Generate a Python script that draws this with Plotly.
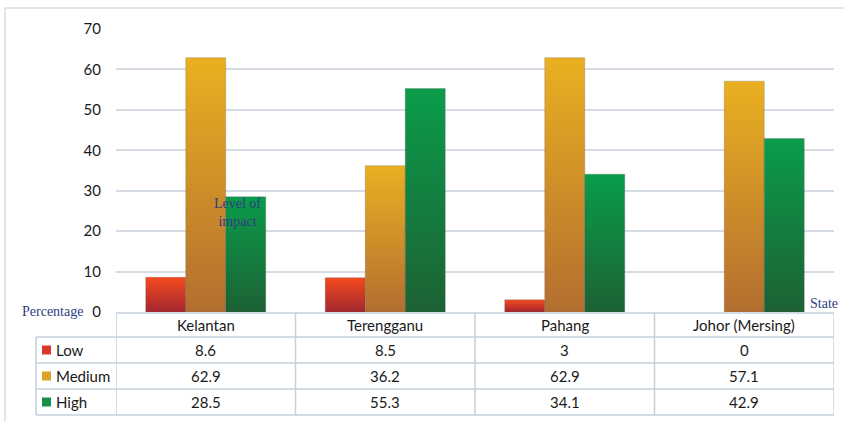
import plotly.graph_objects as go

# ---------------- data ----------------
states = ["Kelantan", "Terengganu", "Pahang", "Johor (Mersing)"]
levels = ["Low", "Medium", "High"]
low = [8.6, 8.5, 3, 0]
medium = [62.9, 36.2, 62.9, 57.1]
high = [28.5, 55.3, 34.1, 42.9]
y_ticks = [0, 10, 20, 30, 40, 50, 60, 70]

series = [low, medium, high]
top_colors = ["#F44A1E", "#EAB021", "#0A9C4B"]
bottom_colors = ["#A3262E", "#B36E30", "#1D6134"]
legend_colors = ["#D9392A", "#DDA02A", "#17904A"]

W, H = 844, 421


def px(x):
    return x / W


def py(y):
    return 1 - y / H


fig = go.Figure()

bar_w = 40 / 179.5  # width of one bar in category units
for j, (name, vals) in enumerate(zip(levels, series)):
    for i, v in enumerate(vals):
        if v <= 0:
            continue
        xc = i + (j - 1) * bar_w
        x0, x1 = xc - bar_w / 2, xc + bar_w / 2
        fig.add_trace(go.Scatter(
            x=[x0, x0, x1, x1, x0], y=[0, v, v, 0, 0],
            mode="lines", fill="toself",
            line=dict(width=0.6, color="rgba(90,90,90,0.45)"),
            fillgradient=dict(type="vertical",
                              colorscale=[[0, bottom_colors[j]], [1, top_colors[j]]]),
            name=name, showlegend=False, hoverinfo="skip"))

fig.update_layout(
    width=W, height=H, autosize=False,
    margin=dict(l=0, r=0, t=0, b=0, autoexpand=False),
    paper_bgcolor="white", plot_bgcolor="white",
    showlegend=False,
    xaxis=dict(domain=[px(116), px(834)], range=[-0.5, 3.5], visible=False,
               fixedrange=True, automargin=False),
    yaxis=dict(domain=[py(312), py(29)], range=[0, 70], tickvals=y_ticks,
               showgrid=True, gridcolor="#D5DCE4", gridwidth=1.5,
               zeroline=False, showline=False, ticks="", automargin=False,
               ticklabelstandoff=14,
               tickfont=dict(family="Lato", size=15, color="#1A1A1A")),
)

shapes = []
line_c = "#C5D1DD"
# outer chart border (top and left visible)
shapes.append(dict(type="line", xref="paper", yref="paper", x0=px(5), x1=1.0,
                   y0=py(8), y1=py(8), line=dict(color="#D3DCE5", width=1.5)))
shapes.append(dict(type="line", xref="paper", yref="paper", x0=px(5), x1=px(5),
                   y0=py(8), y1=0, line=dict(color="#D3DCE5", width=1.5)))

# data table lines
header_top, row_lines = 313, [337, 363, 389, 415]
shapes.append(dict(type="line", xref="x", yref="paper", x0=-0.5, x1=3.5,
                   y0=py(header_top), y1=py(header_top), line=dict(color=line_c, width=1.5)))
for yl in row_lines:
    shapes.append(dict(type="line", xref="paper", yref="paper", x0=px(36), x1=px(834),
                       y0=py(yl), y1=py(yl), line=dict(color=line_c, width=1.5)))
for k in range(len(states) + 1):
    shapes.append(dict(type="line", xref="x", yref="paper", x0=k - 0.5, x1=k - 0.5,
                       y0=py(header_top), y1=py(415), line=dict(color=line_c, width=1.5)))
shapes.append(dict(type="line", xref="paper", yref="paper", x0=px(36), x1=px(36),
                   y0=py(337), y1=py(415), line=dict(color=line_c, width=1.5)))

annotations = []
font_t = dict(family="Lato", size=15, color="#1A1A1A")
header_y = 325
row_y = [350, 376, 402]
for i, s in enumerate(states):
    annotations.append(dict(x=i, y=py(header_y), xref="x", yref="paper", text=s,
                            showarrow=False, font=font_t, xanchor="center", yanchor="middle"))
for r, (name, vals) in enumerate(zip(levels, series)):
    for i, v in enumerate(vals):
        annotations.append(dict(x=i, y=py(row_y[r]), xref="x", yref="paper", text=f"{v:g}",
                                showarrow=False, font=font_t, xanchor="center", yanchor="middle"))
    # legend key
    shapes.append(dict(type="rect", xref="paper", yref="paper",
                       x0=px(42), x1=px(51), y0=py(row_y[r] - 4.5), y1=py(row_y[r] + 4.5),
                       fillcolor=legend_colors[r], line=dict(width=0)))
    annotations.append(dict(x=px(54), y=py(row_y[r]), xref="paper", yref="paper", text=name,
                            showarrow=False, font=font_t, xanchor="left", yanchor="middle"))

serif = dict(family="Liberation Serif", size=14, color="#2E3D80")
annotations.append(dict(x=px(20), y=py(311), xref="paper", yref="paper", text="Percentage",
                        showarrow=False, font=serif, xanchor="left", yanchor="middle"))
annotations.append(dict(x=px(808), y=py(303), xref="paper", yref="paper", text="State",
                        showarrow=False, font=serif, xanchor="left", yanchor="middle"))
annotations.append(dict(x=px(237), y=py(212), xref="paper", yref="paper",
                        text="Level of<br>impact", showarrow=False,
                        font=serif, xanchor="center", yanchor="middle", align="center"))

fig.update_layout(shapes=shapes, annotations=annotations)

fig.write_html("out.html")
